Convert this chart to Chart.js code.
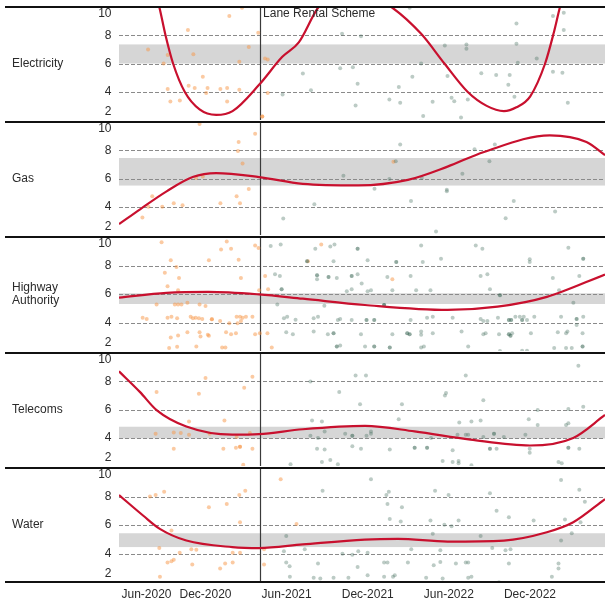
<!DOCTYPE html>
<html>
<head>
<meta charset="utf-8">
<script src="https://cdn.jsdelivr.net/npm/chart.js@4.4.1/dist/chart.umd.min.js"></script>
<style>
  html, body { margin: 0; padding: 0; background: #fff; width: 609px; height: 605px; overflow: hidden; }
  body { position: relative; }
  .panel { position: absolute; left: 0; width: 609px; }
</style>
</head>
<body>
<script>
// Months are counted from Jan 2020 (= 0), so Jun-2020 = 5, Dec-2020 = 11, ...
const panelNames = ['Electricity', 'Gas', 'Highway Authority', 'Telecoms', 'Water'];
const panelLabelLines = [['Electricity'], ['Gas'], ['Highway', 'Authority'], ['Telecoms'], ['Water']];
const yTicks = [2, 4, 6, 8, 10];
const xTickMonths = [5, 11, 17, 23, 29, 35];
const xTickLabels = ['Jun-2020', 'Dec-2020', 'Jun-2021', 'Dec-2021', 'Jun-2022', 'Dec-2022'];
const schemeStartMonth = 15;            // Apr-2021
const schemeLabel = 'Lane Rental Scheme';

// Typical-range bands
const bandLow  = [6.0, 5.5, 5.3, 3.95, 4.45];
const bandHigh = [7.35, 7.45, 6.05, 4.78, 5.42];

// Smoothed trends [month, value]
const elecTrend = [[4.6,22],[6.2,14.5],[7.58,10],[8.04,8],[8.6,6],[9.46,4],[10.56,2.75],[11.79,2.36],[13.0,2.63],[14.96,4.49],[16.68,6.47],[17.9,7.5],[19.37,10],[21.8,11.5],[24.75,10],[26.95,8.1],[28.67,6],[30.38,4],[31.8,3.0],[33.07,2.63],[34.0,2.9],[35.02,3.68],[36.12,6],[36.74,8.1],[37.22,10],[38.4,14],[40.6,24]];
const gasTrend = [[4.6,2.77],[6.16,3.82],[8.12,5.09],[10.05,6.1],[11.79,6.38],[14.96,6.1],[18.2,5.62],[22.3,5.51],[25.97,5.9],[28.9,6.84],[31.6,7.88],[36.47,9.05],[39.18,8.58],[40.55,7.65]];
const highwayTrend = [[4.6,5.74],[8.12,6.08],[11.2,6.15],[14.96,5.97],[18.2,5.67],[22.79,5.23],[28.9,4.88],[32.6,5.11],[36.25,5.8],[40.55,7.37]];
const telecomsTrend = [[4.6,8.7],[6.16,7.23],[7.38,5.96],[9.58,4.8],[12.98,4.22],[14.96,4.26],[18.2,4.6],[22.79,4.84],[26.46,4.45],[30.6,3.87],[35.0,3.45],[38.2,3.99],[40.55,5.61]];
const waterTrend = [[4.6,8.1],[6.4,6.65],[7.62,5.73],[9.58,4.91],[12.98,4.45],[14.96,4.38],[18.2,4.64],[22.79,4.98],[25.24,5.03],[28.9,4.84],[33.07,4.91],[36.25,5.49],[38.2,6.19],[40.55,7.82]];

// Individual works [month, value]
const elecBefore = [[13.7,9.95],[12.76,9.37],[9.7,8.37],[14.9,8.17],[6.75,7.0],[8.2,6.6],[10.1,6.65],[14.2,7.16],[7.9,6.0],[13.5,6.12],[15.4,6.35],[15.6,6.28],[10.8,5.07],[9.75,4.43],[10.2,4.26],[8.2,4.19],[11.15,4.26],[12.1,4.19],[12.6,4.26],[11.05,3.92],[13.5,4.15],[15.6,3.92],[8.4,3.31],[9.1,3.38],[12.6,3.31],[15.2,2.24],[15.2,2.24]];
const elecAfter = [[18.2,5.3],[16.7,3.8],[26.1,9.95],[21.1,8.1],[22.5,7.93],[28.7,7.28],[30.3,7.35],[30.3,7.05],[34.0,8.84],[34.0,7.4],[34.1,6.05],[35.5,6.36],[36.7,9.37],[37.5,9.6],[37.5,8.37],[26.95,6.0],[20.96,5.66],[21.9,5.73],[22.25,4.56],[26.3,5.07],[25.3,4.33],[28.9,5.12],[31.4,5.31],[32.5,5.19],[33.5,5.19],[33.4,4.5],[36.7,5.42],[37.4,5.35],[18.8,4.1],[24.6,3.45],[25.4,3.22],[22.1,3.03],[27.8,3.29],[29.2,3.57],[29.4,3.33],[30.4,3.45],[33.85,3.64],[37.8,3.22],[27.1,2.29],[29.9,2.17]];

const gasBefore = [[10.56,9.86],[14.67,9.16],[13.45,8.58],[13.4,7.95],[13.74,7.07],[10.3,6.03],[10.8,6.14],[14.2,5.26],[7.06,4.75],[13.3,4.75],[13.55,4.24],[12.1,4.24],[8.65,4.24],[9.3,4.1],[6.77,4.0],[7.8,4.0],[6.33,3.24],[24.9,7.18]];
const gasAfter = [[16.75,3.17],[25.4,8.4],[30.9,8.07],[32.4,8.4],[25.07,7.23],[32.0,7.23],[21.2,6.19],[24.6,5.96],[27.0,6.03],[30.0,6.33],[23.5,5.28],[28.85,5.21],[28.85,5.09],[19.05,4.17],[26.2,4.4],[33.8,4.4],[36.86,3.66],[33.2,3.19],[28.05,2.24]];

const highwayBefore = [[7.75,9.64],[12.57,9.69],[12.15,9.13],[12.89,9.18],[14.67,9.41],[14.92,9.22],[8.43,8.36],[8.85,7.9],[11.25,8.36],[13.45,8.41],[7.99,7.5],[9.04,7.13],[13.62,7.13],[8.19,6.55],[8.97,6.27],[14.97,6.27],[7.38,5.27],[8.73,5.27],[8.97,5.27],[9.22,5.27],[9.66,5.39],[10.56,5.27],[11.0,5.16],[6.35,4.34],[6.65,4.25],[8.19,4.34],[8.48,4.41],[8.9,4.3],[9.9,4.41],[10.07,4.3],[10.27,4.34],[10.51,4.3],[10.76,4.25],[11.47,4.23],[11.47,4.23],[12.08,4.11],[12.76,3.95],[13.3,4.41],[13.55,4.41],[13.74,4.34],[13.99,4.41],[13.37,3.95],[13.62,4.11],[14.47,4.41],[8.43,2.95],[8.97,3.09],[9.66,3.32],[10.56,3.32],[10.63,3.02],[11.17,3.14],[11.25,3.07],[12.52,3.32],[12.89,3.18],[13.25,3.25],[14.67,3.18],[15.02,3.25],[15.58,3.25],[8.31,2.21],[8.9,2.3],[10.32,2.32],[12.23,2.25],[12.47,2.25],[15.9,2.25],[15.41,7.27],[15.63,6.34],[19.56,9.48],[18.58,8.29],[24.82,7.04]];
const highwayAfter = [[15.82,9.36],[16.56,9.48],[18.51,8.29],[18.51,8.29],[16.14,7.39],[16.5,7.27],[16.63,6.34],[16.63,6.34],[16.31,5.27],[16.8,4.3],[17.04,4.41],[17.66,4.2],[16.97,3.32],[17.46,3.18],
  [19.12,9.18],[20.23,9.34],[20.54,9.48],[22.25,9.18],[22.25,9.18],[26.95,9.41],[30.99,9.41],[31.48,9.18],[37.84,9.25],
  [20.47,8.29],[22.99,8.36],[25.11,8.24],[25.11,8.24],[27.07,8.24],[28.42,8.48],[34.98,8.43],[34.98,8.24],[38.94,8.48],[38.94,8.48],
  [19.25,7.32],[19.25,7.32],[19.25,7.04],[20.1,7.2],[20.1,7.2],[20.71,7.13],[21.81,7.27],[21.81,7.27],[22.25,7.39],[24.45,7.2],[26.17,7.27],[31.35,7.27],[31.85,7.39],[36.69,7.13],[38.65,7.27],
  [22.55,6.74],[21.45,6.2],[21.81,6.34],[22.99,6.2],[23.24,6.27],[24.82,6.27],[26.58,6.27],[27.64,6.27],[32.04,6.34],[32.78,5.92],[32.78,5.92],[37.15,6.27],[38.21,5.39],[19.79,5.18],[24.21,5.23],[24.21,5.23],[24.21,5.23],
  [19.0,4.3],[19.32,4.41],[20.79,4.18],[20.96,4.25],[21.81,4.18],[22.91,4.18],[22.91,4.18],[23.48,4.18],[23.48,4.18],[26.17,4.18],[27.39,4.34],[27.81,4.41],[29.28,4.34],[31.35,4.25],[31.55,4.11],[31.85,4.11],[32.63,4.34],[33.44,4.18],[33.44,4.18],[33.61,4.18],[33.61,4.18],[33.92,4.41],[34.25,4.41],[34.42,4.18],[34.42,4.18],[34.54,4.41],[34.78,4.18],[35.32,4.41],[37.3,4.41],[38.45,4.25],[38.45,4.25],[38.94,4.41],[38.45,3.83],
  [19.0,3.37],[20.05,3.18],[20.47,3.25],[20.47,3.25],[22.5,3.18],[24.82,3.18],[25.92,3.25],[25.92,3.25],[26.1,3.18],[26.1,3.18],[26.95,3.37],[26.95,3.14],[27.81,3.25],[29.94,3.37],[31.55,3.18],[31.72,3.25],[32.71,3.18],[33.44,3.18],[33.44,3.18],[33.56,3.07],[33.56,3.07],[33.68,3.25],[35.07,3.25],[37.06,3.32],[37.67,3.25],[37.77,3.37],[38.89,3.25],
  [20.71,2.32],[20.71,2.32],[20.96,2.39],[22.8,2.32],[23.48,2.32],[23.48,2.32],[24.63,2.25],[24.63,2.25],[26.95,2.25],[27.15,2.32],[30.43,2.32],[32.78,2.0],[34.42,2.02],[34.78,2.02],[36.79,2.21],[37.67,2.21],[38.09,2.21],[38.89,2.32],[38.89,2.32]];

const telecomsBefore = [[11.0,8.23],[14.47,8.32],[7.38,7.24],[10.51,7.12],[13.86,7.54],[9.78,5.15],[12.4,5.22],[8.65,4.38],[9.17,4.33],[7.31,4.29],[9.78,4.22],[11.3,4.29],[13.3,4.05],[14.28,4.33],[8.65,3.22],[12.32,3.22],[13.25,3.29],[13.55,3.36],[13.55,3.36],[14.47,3.22],[13.79,2.08]];
const telecomsAfter = [[17.29,2.13],[18.76,7.98],[22.1,8.4],[22.87,8.4],[30.25,8.4],[38.58,9.09],[20.89,7.24],[28.79,7.17],[28.71,7.0],[31.55,6.66],[22.43,6.38],[25.53,6.38],[35.57,5.96],[37.84,6.03],[38.94,6.19],[18.88,5.22],[19.61,5.15],[25.29,5.31],[29.77,5.08],[30.67,5.15],[31.35,5.22],[34.91,5.31],[35.57,4.91],[37.67,4.91],[37.84,5.03],
  [19.81,4.45],[21.33,4.29],[21.86,4.15],[21.86,4.15],[23.24,4.45],[23.24,4.29],[22.91,4.15],[18.76,4.15],[19.32,3.98],[27.68,3.98],[29.64,4.22],[30.25,4.22],[30.43,4.22],[31.55,4.05],[32.34,4.29],[32.34,4.29],[33.07,4.05],[34.66,4.22],
  [19.25,3.22],[19.81,3.17],[21.86,3.4],[22.5,3.22],[24.63,3.17],[26.47,3.29],[26.47,3.29],[27.39,3.29],[27.39,3.29],[29.28,3.12],[32.04,3.22],[32.04,3.22],[32.53,3.22],[34.98,3.22],[34.98,2.94],[37.84,3.29],[37.84,3.29],[38.65,3.22],
  [19.61,2.29],[20.23,2.43],[20.79,2.13],[28.54,2.36],[29.28,2.29],[29.72,2.36],[29.72,2.2],[30.67,2.06],[37.11,2.29],[37.35,2.2]];

const waterBefore = [[6.89,8.0],[7.31,8.1],[7.94,8.34],[13.94,8.4],[13.5,8.1],[11.25,7.24],[12.57,7.47],[13.55,6.19],[8.48,5.61],[7.58,4.38],[9.09,4.05],[9.95,4.29],[10.32,4.26],[13.01,4.05],[13.55,4.05],[15.33,4.29],[8.19,3.36],[8.48,3.45],[8.65,3.56],[10.02,3.22],[12.08,2.94],[12.45,3.29],[13.01,3.36],[15.33,3.22],[7.63,2.36],[16.56,9.21],[17.73,6.07]];
const waterAfter = [[16.97,5.22],[16.8,4.15],[16.97,3.36],[17.22,3.1],[17.24,2.36],
  [23.24,9.21],[19.66,8.4],[24.56,8.34],[24.38,8.1],[27.98,8.4],[28.98,8.1],[32.04,8.23],[24.46,7.47],[25.53,7.24],[32.53,7.0],[24.63,6.42],[25.44,6.24],[27.64,6.31],[29.72,6.31],[33.44,6.54],[35.27,6.31],[28.67,6.01],[29.2,5.91],[37.59,6.38],[38.74,6.19],[39.06,7.63],[38.65,8.47],[37.3,9.16],
  [27.81,5.38],[31.35,5.22],[38.09,5.42],[37.3,4.91],[18.34,4.29],[26.22,4.29],[28.37,4.22],[32.21,4.38],[33.19,4.22],[33.56,4.29],[21.13,3.98],[21.86,3.91],[22.3,4.15],[22.99,4.05],
  [19.32,3.29],[22.25,3.06],[24.21,3.36],[24.46,3.36],[25.97,3.36],[27.88,3.17],[28.37,3.4],[29.52,3.29],[30.25,3.36],[30.43,3.36],[33.44,3.29],[37.11,3.29],[37.11,2.94],
  [19.0,2.29],[19.49,2.24],[20.47,2.29],[21.57,2.29],[22.99,2.47],[24.21,2.36],[24.87,2.36],[25.0,2.47],[27.32,2.29],[28.54,2.24],[30.43,2.29],[30.67,2.36],[32.71,1.98],[36.62,2.36]];

const trends  = [elecTrend, gasTrend, highwayTrend, telecomsTrend, waterTrend];
const befores = [elecBefore, gasBefore, highwayBefore, telecomsBefore, waterBefore];
const afters  = [elecAfter, gasAfter, highwayAfter, telecomsAfter, waterAfter];

// Layout
const FONT = '12px "Liberation Sans", Arial, sans-serif';
const TEXT = '#2b2b2b';
const firstTop = 6, panelStep = 115.2, pad = 3, axisSpace = 24;

const toXY = arr => arr.map(p => ({ x: p[0], y: p[1] }));

const decor = {
  id: 'decor',
  beforeDatasetsDraw(chart, args, o) {
    const { ctx, chartArea: a, scales: { x, y } } = chart;
    ctx.save();
    // band
    const yHi = y.getPixelForValue(o.band[1]);
    const yLo = y.getPixelForValue(o.band[0]);
    ctx.fillStyle = '#d6d6d6';
    ctx.fillRect(a.left, yHi, a.right - a.left, yLo - yHi);
    // dashed reference lines
    ctx.strokeStyle = '#8a8a8a';
    ctx.lineWidth = 1;
    ctx.setLineDash([4, 2]);
    yTicks.forEach(v => {
      if (v <= y.min || v >= y.max) return;
      const py = Math.round(y.getPixelForValue(v)) + 0.5;
      ctx.beginPath(); ctx.moveTo(a.left, py); ctx.lineTo(a.right, py); ctx.stroke();
    });
    ctx.setLineDash([]);
    // scheme start marker
    const sx = Math.round(x.getPixelForValue(schemeStartMonth)) + 0.5;
    ctx.strokeStyle = '#3a3a3a';
    ctx.lineWidth = 1.2;
    ctx.beginPath(); ctx.moveTo(sx, a.top); ctx.lineTo(sx, a.bottom); ctx.stroke();
    ctx.restore();
  },
  afterDraw(chart, args, o) {
    const { ctx, chartArea: a, scales: { x, y } } = chart;
    ctx.save();
    // panel rules: top of every panel, plus the bottom of the last one
    ctx.strokeStyle = '#111';
    ctx.lineWidth = 2;
    const rules = o.last ? [a.top, a.bottom] : [a.top];
    rules.forEach(py => {
      const ry = Math.round(py);
      ctx.beginPath(); ctx.moveTo(5, ry); ctx.lineTo(a.right, ry); ctx.stroke();
    });
    ctx.font = FONT;
    ctx.fillStyle = TEXT;
    // y tick labels, kept inside the panel
    ctx.textAlign = 'right';
    ctx.textBaseline = 'middle';
    yTicks.forEach(v => {
      let py = y.getPixelForValue(v);
      py = Math.max(a.top + 7, Math.min(a.bottom - 8, py));
      ctx.fillText(String(v), 111.5, py);
    });
    // panel name
    ctx.textAlign = 'left';
    const mid = (a.top + a.bottom) / 2;
    const lh = 13.4;
    o.lines.forEach((t, k) => {
      ctx.fillText(t, 12, mid + (k - (o.lines.length - 1) / 2) * lh);
    });
    // scheme label
    if (o.first) {
      const sx = x.getPixelForValue(schemeStartMonth);
      ctx.fillText(schemeLabel, sx + 3.5, a.top + 6.5);
    }
    // x axis labels
    if (o.last) {
      ctx.textAlign = 'left';
      xTickMonths.forEach((m, k) => {
        const w = ctx.measureText(xTickLabels[k]).width;
        let left = x.getPixelForValue(m) - w / 2;
        left = Math.max(a.left + 2.5, Math.min(a.right - w, left));
        ctx.fillText(xTickLabels[k], left, a.bottom + 13);
      });
    }
    ctx.restore();
  }
};

panelNames.forEach((name, i) => {
  const last = i === panelNames.length - 1;
  const top = Math.round(firstTop + i * panelStep);
  const bottom = Math.round(firstTop + (i + 1) * panelStep);
  const div = document.createElement('div');
  div.className = 'panel';
  div.style.top = (top - pad) + 'px';
  div.style.height = (bottom - top + 2 * pad + (last ? axisSpace : 0)) + 'px';
  const cv = document.createElement('canvas');
  div.appendChild(cv);
  document.body.appendChild(div);

  new Chart(cv, {
    type: 'scatter',
    data: {
      datasets: [
        {
          type: 'line',
          label: name + ' trend',
          data: toXY(trends[i]),
          borderColor: '#c8102e',
          borderWidth: 2.2,
          pointRadius: 0,
          fill: false,
          cubicInterpolationMode: 'monotone',
          order: 0
        },
        {
          label: name + ' after',
          data: toXY(afters[i]),
          backgroundColor: 'rgba(58,104,86,0.34)',
          borderWidth: 0,
          pointRadius: 2,
          order: 1
        },
        {
          label: name + ' before',
          data: toXY(befores[i]),
          backgroundColor: 'rgba(247,150,70,0.5)',
          borderWidth: 0,
          pointRadius: 2,
          order: 2
        }
      ]
    },
    options: {
      responsive: true,
      maintainAspectRatio: false,
      animation: false,
      devicePixelRatio: 1,
      events: [],
      layout: { padding: { left: 119, right: 1, top: pad, bottom: pad + (last ? axisSpace : 0) } },
      scales: {
        x: { type: 'linear', display: false, min: 4.6, max: 40.55 },
        y: { type: 'linear', display: false, min: 2, max: 10 }
      },
      plugins: {
        legend: { display: false },
        tooltip: { enabled: false },
        decor: { band: [bandLow[i], bandHigh[i]], lines: panelLabelLines[i], first: i === 0, last: last }
      }
    },
    plugins: [decor]
  });
});
</script>
</body>
</html>
